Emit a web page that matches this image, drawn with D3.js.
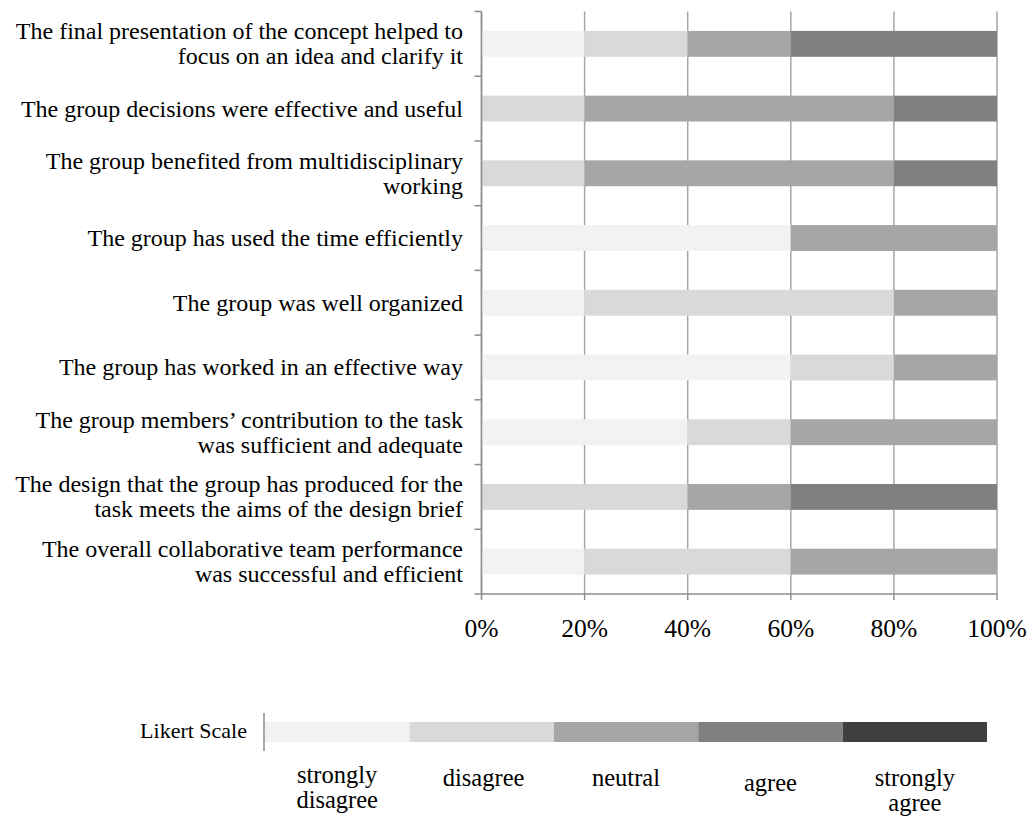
<!DOCTYPE html>
<html><head><meta charset="utf-8">
<script src="https://cdn.jsdelivr.net/npm/d3@7"></script>
<style>body{margin:0;background:#fff}svg{display:block}text{font-family:"Liberation Serif","Times New Roman",serif;fill:#000}</style>
</head><body><svg id="c" width="1031" height="819"></svg>
<script>
const categories = [
  ["The final presentation of the concept helped to", "focus on an idea and clarify it"],
  ["The group decisions were effective and useful"],
  ["The group benefited from multidisciplinary", "working"],
  ["The group has used the time efficiently"],
  ["The group was well organized"],
  ["The group has worked in an effective way"],
  ["The group members\u2019 contribution to the task", "was sufficient and adequate"],
  ["The design that the group has produced for the", "task meets the aims of the design brief"],
  ["The overall collaborative team performance", "was successful and efficient"]
];
const stronglyDisagree = [20, 0, 0, 60, 20, 60, 40, 0, 20];
const disagree         = [20, 20, 20, 0, 60, 20, 20, 40, 40];
const neutral          = [20, 60, 60, 40, 20, 20, 40, 20, 40];
const agree            = [40, 20, 20, 0, 0, 0, 0, 40, 0];
const stronglyAgree    = [0, 0, 0, 0, 0, 0, 0, 0, 0];
const seriesNames = ["strongly disagree", "disagree", "neutral", "agree", "strongly agree"];
const legendLabels = [["strongly", "disagree"], ["disagree"], ["neutral"], ["agree"], ["strongly", "agree"]];
const colors = ["#f2f2f2", "#d9d9d9", "#a6a6a6", "#808080", "#404040"];
const xTicks = [0, 20, 40, 60, 80, 100];

(function () {
const svg = d3.select("#c");
const pL = 481.5, pR = 997, pT = 11.5, pB = 594;
const ids = categories.map((d, i) => i);
const x = d3.scaleLinear().domain([0, 100]).range([pL, pR]);
const y = d3.scaleBand().domain(ids).range([pT, pB]).paddingInner(0.6).paddingOuter(0.3);
const yb = d3.scaleBand().domain(ids).range([pT, pB]);

const rows = ids.map(i => ({
  "strongly disagree": stronglyDisagree[i], "disagree": disagree[i], "neutral": neutral[i],
  "agree": agree[i], "strongly agree": stronglyAgree[i], idx: i
}));
const stack = d3.stack().keys(seriesNames)(rows);
const color = d3.scaleOrdinal().domain(seriesNames).range(colors);

svg.append("g").selectAll("line").data(xTicks).join("line")
  .attr("x1", d => x(d)).attr("x2", d => x(d)).attr("y1", pT).attr("y2", pB)
  .attr("stroke", "#a6a6a6").attr("stroke-width", 1.5);

svg.append("g").selectAll("g").data(stack).join("g").attr("fill", s => color(s.key))
  .selectAll("rect").data(s => s).join("rect")
  .attr("x", d => x(d[0])).attr("width", d => x(d[1]) - x(d[0]))
  .attr("y", d => y(d.data.idx)).attr("height", y.bandwidth());

const ga = svg.append("g");
ga.append("line").attr("x1", pL).attr("x2", pL).attr("y1", pT).attr("y2", pB)
  .attr("stroke", "#8c8c8c").attr("stroke-width", 1.5);
const bounds = ids.map(i => yb(i)).concat([pB]);
ga.selectAll("line.t").data(bounds).join("line").attr("class", "t")
  .attr("x1", pL - 7).attr("x2", pL).attr("y1", d => d).attr("y2", d => d)
  .attr("stroke", "#8c8c8c").attr("stroke-width", 1.5);

const gb = svg.append("g");
gb.append("line").attr("x1", pL).attr("x2", pR).attr("y1", pB).attr("y2", pB)
  .attr("stroke", "#8c8c8c").attr("stroke-width", 1.5);
gb.selectAll("line.t").data(xTicks).join("line").attr("class", "t")
  .attr("x1", d => x(d)).attr("x2", d => x(d)).attr("y1", pB).attr("y2", pB + 6)
  .attr("stroke", "#8c8c8c").attr("stroke-width", 1.5);
gb.selectAll("text").data(xTicks).join("text")
  .attr("x", d => x(d)).attr("y", 637).attr("text-anchor", "middle")
  .attr("font-size", 25.5).text(d => d + "%");

const gl = svg.append("g");
categories.forEach((lines, i) => {
  const c = yb(i) + yb.bandwidth() / 2;
  const n = lines.length;
  lines.forEach((t, k) => {
    gl.append("text").attr("x", 463).attr("y", c + 8 + (k - (n - 1) / 2) * 25)
      .attr("text-anchor", "end").attr("font-size", 24).text(t);
  });
});

const lg = svg.append("g");
const lx = d3.scaleBand().domain(seriesNames).range([265, 987]);
lg.append("text").attr("x", 247).attr("y", 738).attr("text-anchor", "end").attr("font-size", 22).text("Likert Scale");
lg.append("line").attr("x1", 264).attr("x2", 264).attr("y1", 713).attr("y2", 751).attr("stroke", "#8c8c8c").attr("stroke-width", 1.5);
lg.selectAll("rect").data(seriesNames).join("rect")
  .attr("x", d => lx(d)).attr("width", lx.bandwidth()).attr("y", 722).attr("height", 20)
  .attr("fill", d => color(d));
const lbBase = [[783, 808], [786], [786], [791], [786, 811]];
seriesNames.forEach((s, i) => {
  legendLabels[i].forEach((t, k) => {
    lg.append("text").attr("x", lx(s) + lx.bandwidth() / 2 + (i === 1 ? 2 : 0)).attr("y", lbBase[i][k])
      .attr("text-anchor", "middle").attr("font-size", 24.5).text(t);
  });
});
})();
</script></body></html>
